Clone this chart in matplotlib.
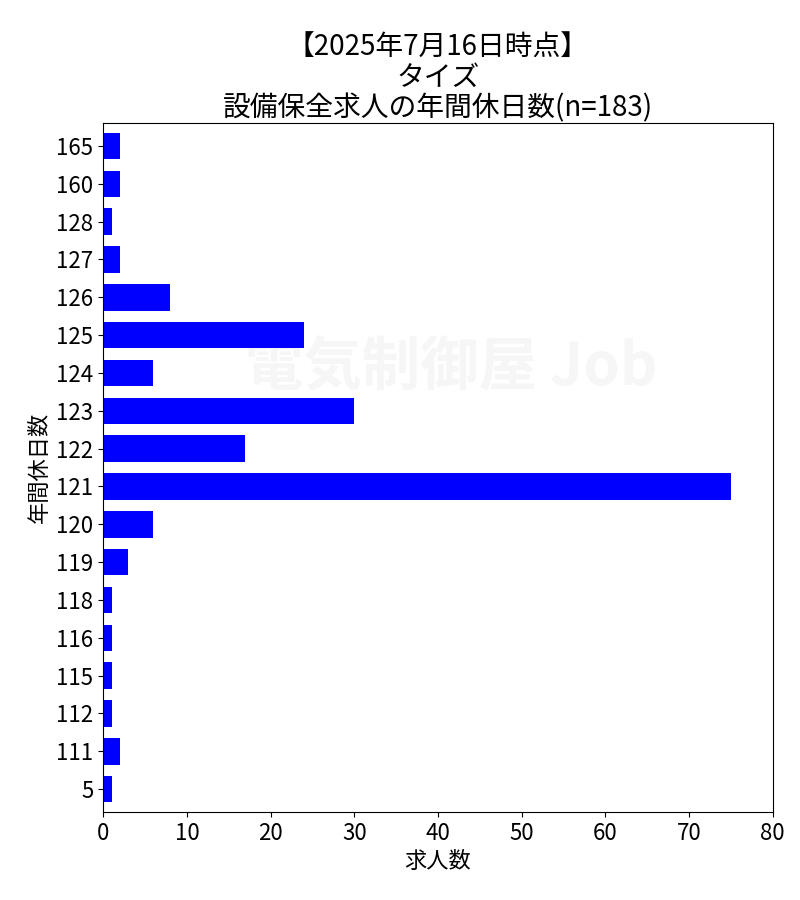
import numpy as np
import matplotlib
matplotlib.use('Agg')
import matplotlib.pyplot as plt

plt.rcParams['font.family'] = ['Noto Sans CJK JP', 'DejaVu Sans']

# 年間休日数 (bottom to top)
holidays = ['5', '111', '112', '115', '116', '118', '119', '120', '121',
            '122', '123', '124', '125', '126', '127', '128', '160', '165']
# 求人数
counts = [1, 2, 1, 1, 1, 1, 3, 6, 75, 17, 30, 6, 24, 8, 2, 1, 2, 2]

fig, ax = plt.subplots(figsize=(8, 9), dpi=100)
fig.subplots_adjust(left=0.129, right=0.966, top=0.863, bottom=0.098)

y = np.arange(len(holidays))
ax.barh(y, counts, height=0.7, color='blue', zorder=2)

# watermark
ax.text(0.52, 0.645, '電気制御屋 Job', transform=ax.transAxes, ha='center', va='center',
        fontsize=42, fontweight='bold', color='#f6f6f6', zorder=1)

ax.set_yticks(y)
ax.set_yticklabels(holidays)
ax.set_ylim(-0.6, len(holidays) - 0.4)
ax.set_xlim(0, 80)
ax.set_xticks(np.arange(0, 81, 10))
ax.tick_params(labelsize=16)

ax.set_xlabel('求人数', fontsize=16)
ax.set_ylabel('年間休日数', fontsize=16)
ax.set_title('【2025年7月16日時点】\nタイズ\n設備保全求人の年間休日数(n=183)', fontsize=20,
             linespacing=1.0, pad=5)

plt.savefig('out.png')
